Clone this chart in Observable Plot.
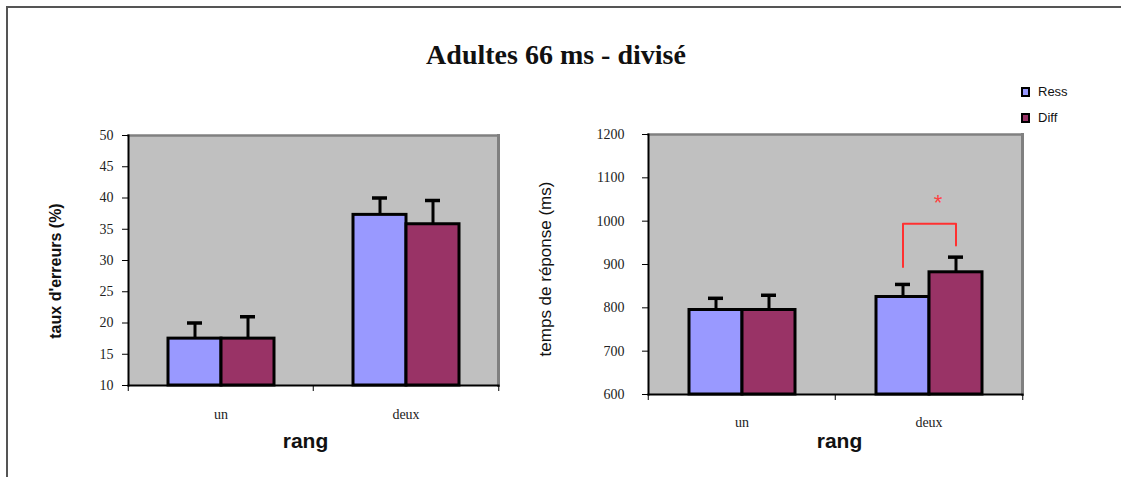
<!DOCTYPE html>
<html>
<head>
<meta charset="utf-8">
<script src="https://cdn.jsdelivr.net/npm/d3@7"></script>
<script src="https://cdn.jsdelivr.net/npm/@observablehq/plot@0.6"></script>
<style>
  html, body { margin: 0; padding: 0; background: #fff; overflow: hidden; }
  #root { position: relative; width: 1121px; height: 477px; overflow: hidden; background: #fff; }
  .abs { position: absolute; white-space: nowrap; }
  .frameBox { position: absolute; left: 6px; top: 6px; width: 1200px; height: 600px; border-left: 2px solid #555; border-top: 2px solid #555; }
  .title { left: 0; width: 1112px; top: 39px; text-align: center; font-family: "Liberation Serif", serif; font-weight: bold; font-size: 28px; color: #111; }
  .ylab { transform: translate(-50%, -50%) rotate(-90deg); font-family: "Liberation Sans", Arial, sans-serif; color: #111; }
  .xlab { transform: translate(-50%, -50%); font-family: "Liberation Sans", Arial, sans-serif; font-weight: bold; font-size: 21px; color: #111; }
  .leg { font-family: "Liberation Sans", Arial, sans-serif; font-size: 13px; color: #111; display: flex; align-items: center; }
  .sw { width: 5px; height: 6px; border: 2px solid #000; margin-right: 8px; }
  svg { position: absolute; top: 0; overflow: visible; }
</style>
</head>
<body>
<div id="root">
  <div class="frameBox"></div>
  <div class="abs title">Adultes 66 ms - divisé</div>
</div>
<script>
// ---- data ----
const rang = ["un", "deux"];
const series = ["Ress", "Diff"];
const colors = ["#9999ff", "#993366"];

// taux d'erreurs (%)
const erreursRess = [17.5, 37.3];
const erreursDiff = [17.5, 35.8];
const erreursErrRess = [2.5, 2.7];
const erreursErrDiff = [3.5, 3.8];
const erreursTicks = [10, 15, 20, 25, 30, 35, 40, 45, 50];

// temps de réponse (ms)
const tempsRess = [795, 825];
const tempsDiff = [795, 882];
const tempsErrRess = [27, 29];
const tempsErrDiff = [34, 35];
const tempsTicks = [600, 700, 800, 900, 1000, 1100, 1200];

// significance annotation (deux: Ress vs Diff)
const bracketSerie = ["Ress", "Ress", "Diff", "Diff"];
const bracketY = [894, 994, 994, 944];
const starY = 1041;

function makeRows(ress, diff, errRess, errDiff) {
  const rows = [];
  rang.forEach((r, i) => {
    rows.push({rang: r, serie: "Ress", value: ress[i], err: errRess[i]});
    rows.push({rang: r, serie: "Diff", value: diff[i], err: errDiff[i]});
  });
  return rows;
}

function chart({rows, ticks, width, height, mL, mR, mT, mB, tickPadding, catPadding, extra = []}) {
  const yMin = ticks[0], yMax = ticks[ticks.length - 1];
  const step = (width - mL - mR) / rang.length;
  return Plot.plot({
    width, height,
    marginLeft: mL, marginRight: mR, marginTop: mT, marginBottom: mB,
    style: {fontFamily: "'Liberation Serif', serif", fontSize: "14px", color: "#222", background: "transparent", overflow: "visible"},
    fx: {domain: rang, padding: 0, axis: null, label: null},
    x: {domain: series, paddingInner: 0, paddingOuter: 0.745, axis: null, label: null},
    y: {domain: [yMin, yMax], axis: null, label: null},
    color: {domain: series, range: colors},
    marks: [
      Plot.frame({facet: "super", fill: "#c0c0c0"}),
      Plot.frame({facet: "super", anchor: "top", stroke: "#808080", strokeWidth: 2.5}),
      Plot.frame({facet: "super", anchor: "right", stroke: "#808080", strokeWidth: 3}),
      Plot.axisY({ticks, anchor: "left", label: null, tickFormat: d3.format("d"), tickSize: 6, tickPadding, stroke: "#000", fill: "#222", fontSize: 14}),
      Plot.axisFx({anchor: "bottom", label: null, tickSize: 6, tickFormat: () => "", dx: -step / 2, stroke: "#000"}),
      Plot.axisFx({anchor: "bottom", label: null, ticks: [rang[rang.length - 1]], tickSize: 6, tickFormat: () => "", dx: step / 2, stroke: "#000"}),
      Plot.axisFx({anchor: "bottom", label: null, tickSize: 0, tickPadding: catPadding, fontSize: 14, fill: "#222"}),
      Plot.ruleX(rows, {fx: "rang", x: "serie", y1: "value", y2: d => d.value + d.err, stroke: "#000", strokeWidth: 3}),
      Plot.tickY(rows, {fx: "rang", x: "serie", y: d => d.value + d.err, stroke: "#000", strokeWidth: 3.5, insetLeft: 19, insetRight: 19}),
      Plot.barY(rows, {fx: "rang", x: "serie", y1: yMin, y2: "value", fill: "serie", stroke: "#000", strokeWidth: 3}),
      Plot.frame({facet: "super", anchor: "left", stroke: "#000", strokeWidth: 2}),
      Plot.frame({facet: "super", anchor: "bottom", stroke: "#000", strokeWidth: 2}),
      ...extra
    ]
  });
}

const root = document.getElementById("root");

const left = chart({
  rows: makeRows(erreursRess, erreursDiff, erreursErrRess, erreursErrDiff),
  ticks: erreursTicks,
  width: 540, height: 477, mL: 127, mR: 42, mT: 135, mB: 92,
  tickPadding: 9, catPadding: 24
});
left.style.left = "0px";
root.appendChild(left);

const bracket = bracketSerie.map((s, i) => ({rang: "deux", serie: s, y: bracketY[i]}));
const right = chart({
  rows: makeRows(tempsRess, tempsDiff, tempsErrRess, tempsErrDiff),
  ticks: tempsTicks,
  width: 581, height: 477, mL: 107, mR: 99, mT: 134, mB: 83,
  tickPadding: 18, catPadding: 23,
  extra: [
    Plot.line(bracket, {fx: "rang", x: "serie", y: "y", stroke: "#ff3030", strokeWidth: 2}),
    Plot.text([{rang: "deux", serie: "Diff", y: starY}], {fx: "rang", x: "serie", y: "y", text: () => "*", dx: -18, fill: "#ff4040", fontSize: 22, fontFamily: "'Liberation Sans', sans-serif"})
  ]
});
right.style.left = "540px";
root.appendChild(right);

// axis labels
function addDiv(cls, text, x, y, extraStyle = "") {
  const d = document.createElement("div");
  d.className = "abs " + cls;
  d.textContent = text;
  d.style.left = x + "px";
  d.style.top = y + "px";
  d.style.cssText += extraStyle;
  root.appendChild(d);
  return d;
}
addDiv("ylab", "taux d'erreurs (%)", 55.5, 271, "font-weight:bold;font-size:16px;");
addDiv("ylab", "temps de réponse (ms)", 545.5, 269, "font-size:17px;");
addDiv("xlab", "rang", 305.5, 441);
addDiv("xlab", "rang", 839.5, 441);

// legend
series.forEach((s, i) => {
  const d = document.createElement("div");
  d.className = "abs leg";
  d.style.left = "1021px";
  d.style.top = (84 + i * 26) + "px";
  const sw = document.createElement("span");
  sw.className = "sw";
  sw.style.background = colors[i];
  d.appendChild(sw);
  d.appendChild(document.createTextNode(s));
  root.appendChild(d);
});
</script>
</body>
</html>
